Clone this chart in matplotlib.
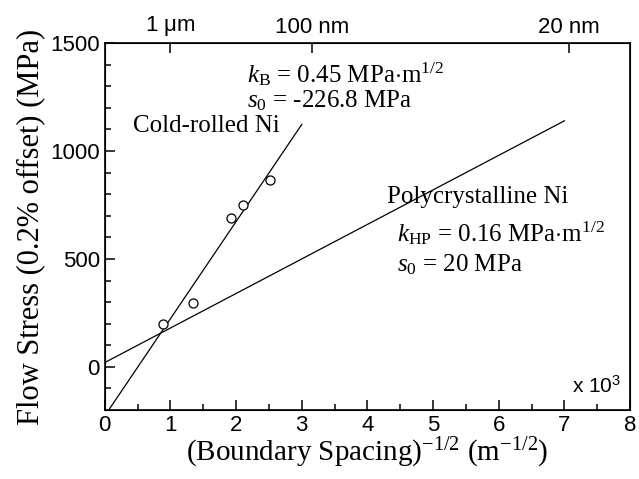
import matplotlib
matplotlib.use('Agg')
import matplotlib.pyplot as plt
import numpy as np

plt.rcParams['mathtext.fontset'] = 'custom'
plt.rcParams['mathtext.rm'] = 'Liberation Serif'
plt.rcParams['mathtext.it'] = 'Liberation Serif:italic'
plt.rcParams['mathtext.sf'] = 'Liberation Sans'

# measured points (x in 10^3 m^-1/2, stress in MPa)
x_pts = [0.89, 1.35, 1.92, 2.11, 2.52]
y_pts = [198, 295, 688, 750, 866]

# fitted lines: cold-rolled and polycrystalline
k_b, s0_b = 450.0, -226.8
k_hp, s0_hp = 160.0, 20.0
x_cold = [0.0, 3.0]
x_poly = [0.0, 7.0]

top_ticks = [1.0, 3.162, 7.071]
top_labels = [r'1 $\mathsf{\mu}$m', '100 nm', '20 nm']

fig = plt.figure(figsize=(6.39, 4.79), dpi=100)
ax = fig.add_axes([0.164, 0.144, 0.822, 0.766])

xc = np.array(x_cold)
ax.plot(xc, s0_b + k_b * xc, color='black', lw=0.9)
xp = np.array(x_poly)
ax.plot(xp, s0_hp + k_hp * xp, color='black', lw=0.9)
ax.plot(x_pts, y_pts, 'o', mfc='white', mec='black', ms=6.5, mew=0.9)

ax.set_xlim(0, 8)
ax.set_ylim(-200, 1500)
ax.set_xticks(range(0, 9))
ax.set_xticks(np.arange(0.5, 8, 1), minor=True)
ax.set_yticks([0, 500, 1000, 1500])
ax.set_yticks(np.arange(-100, 1500, 100), minor=True)
ax.tick_params(direction='in', which='both', labelsize=16, length=7, width=1.1,
               top=False, right=False)
ax.tick_params(which='minor', length=4)
for lab in ax.get_xticklabels() + ax.get_yticklabels():
    lab.set_family('Liberation Sans')
for s in ax.spines.values():
    s.set_linewidth(1.2)

ax.set_xlabel(r'(Boundary Spacing)$^{\mathregular{-1/2}}$ (m$^{\mathregular{-1/2}}$)',
              family='Liberation Serif', fontsize=21, labelpad=0)
ax.set_ylabel('Flow Stress (0.2% offset) (MPa)', family='Liberation Serif',
              fontsize=22, labelpad=4)

ax2 = ax.twiny()
ax2.set_xlim(0, 8)
ax2.set_xticks(top_ticks)
ax2.set_xticklabels(top_labels, family='Liberation Sans')
ax2.tick_params(direction='in', labelsize=16, length=7, width=1.1, pad=4)

tf = dict(family='Liberation Serif', fontsize=18)
ax.text(2.16, 1316, r'$k_{\mathrm{B}}$ = 0.45 MPa$\cdot$m$^{1/2}$', **tf)
ax.text(2.16, 1200, r'$s_0$ = -226.8 MPa', **tf)
ax.text(0.43, 1089, 'Cold-rolled Ni', **tf)
ax.text(4.30, 760, 'Polycrystalline Ni', **tf)
ax.text(4.45, 580, r'$k_{\mathrm{HP}}$ = 0.16 MPa$\cdot$m$^{1/2}$', **tf)
ax.text(4.45, 440, r'$s_0$ = 20 MPa', **tf)
ax.text(7.12, -120, r'x 10$^{\mathsf{3}}$', family='Liberation Sans', fontsize=15)

fig.savefig('out.png', dpi=100)
